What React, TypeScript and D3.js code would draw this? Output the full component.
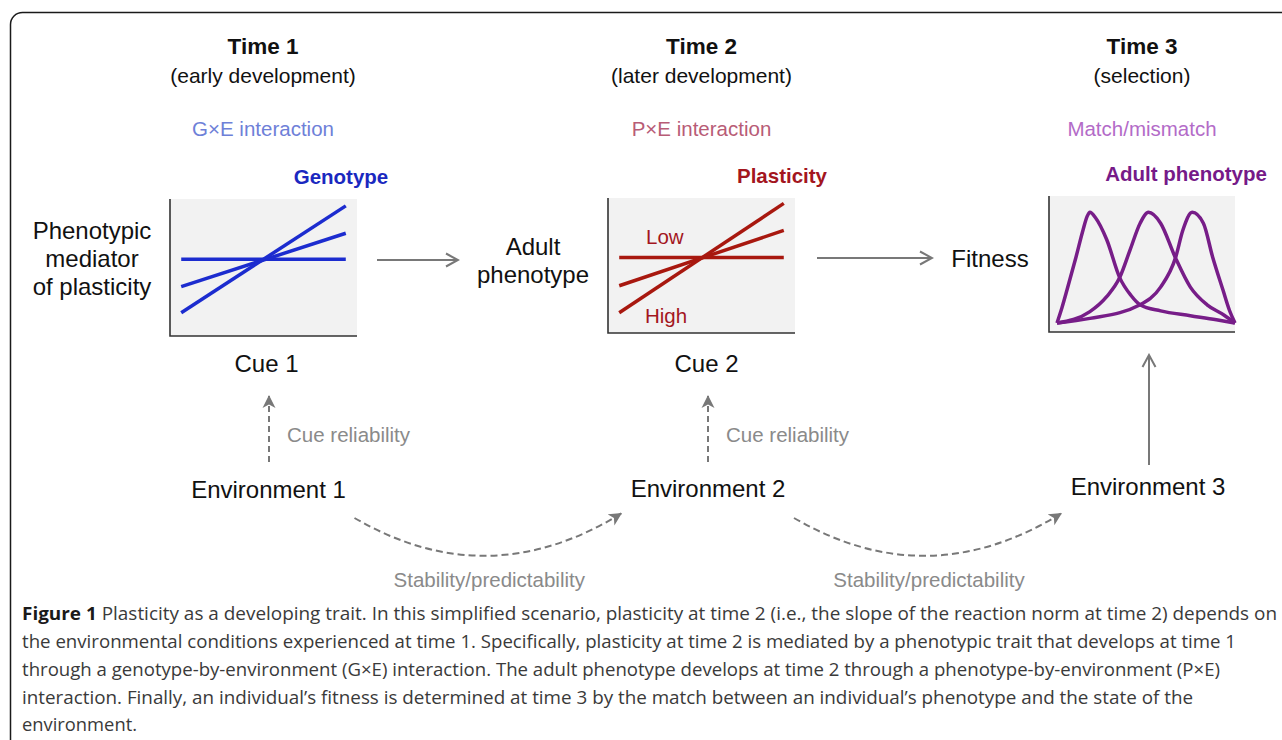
import * as d3 from "d3";

const timeTitles = ["Time 1", "Time 2", "Time 3"];
const timeSubtitles = ["(early development)", "(later development)", "(selection)"];
const interactionLabels = ["G×E interaction", "P×E interaction", "Match/mismatch"];
const panelTitles = ["Genotype", "Plasticity", "Adult phenotype"];
const cueLabels = ["Cue 1", "Cue 2"];
const environmentLabels = ["Environment 1", "Environment 2", "Environment 3"];
const mediatorLabel = ["Phenotypic", "mediator", "of plasticity"];
const adultLabel = ["Adult", "phenotype"];
const fitnessLabel = "Fitness";
const plasticityLevels = ["Low", "High"];
const reliabilityLabel = "Cue reliability";
const stabilityLabel = "Stability/predictability";

// reaction norms, value at low cue and at high cue
const cueRange = [0.06, 0.94];
const genotypeNorms = [
  [0.56, 0.56],
  [0.36, 0.75],
  [0.17, 0.95],
];
const plasticityNorms = [
  [0.56, 0.56],
  [0.35, 0.76],
  [0.15, 0.96],
];

// fitness over adult phenotype, [phenotype, fitness]
const fitnessEarly = [
  [0.043, 0.066], [0.07, 0.18], [0.097, 0.31], [0.145, 0.55], [0.183, 0.75], [0.205, 0.85], [0.22, 0.88],
  [0.25, 0.84], [0.31, 0.68], [0.38, 0.4], [0.44, 0.27], [0.49, 0.2], [0.6, 0.155],
  [0.76, 0.12], [0.9, 0.09], [1.0, 0.066],
];
const fitnessMid = [
  [0.043, 0.066], [0.22, 0.15], [0.31, 0.26], [0.38, 0.4], [0.435, 0.6], [0.49, 0.8], [0.535, 0.88],
  [0.6, 0.8], [0.68, 0.545], [0.76, 0.33], [0.85, 0.2], [0.94, 0.125], [1.0, 0.066],
];
const fitnessLate = [
  [0.043, 0.066], [0.22, 0.1], [0.49, 0.2], [0.6, 0.33], [0.68, 0.545], [0.72, 0.75], [0.77, 0.88],
  [0.83, 0.8], [0.88, 0.55], [0.935, 0.31], [0.97, 0.16], [1.0, 0.066],
];

const captionLead = "Figure 1";
const captionLines = [
  " Plasticity as a developing trait. In this simplified scenario, plasticity at time 2 (i.e., the slope of the reaction norm at time 2) depends on",
  "the environmental conditions experienced at time 1. Specifically, plasticity at time 2 is mediated by a phenotypic trait that develops at time 1",
  "through a genotype-by-environment (G×E) interaction. The adult phenotype develops at time 2 through a phenotype-by-environment (P×E)",
  "interaction. Finally, an individual’s fitness is determined at time 3 by the match between an individual’s phenotype and the state of the",
  "environment.",
];

const FONT = "'Liberation Sans', Arial, sans-serif";
const GRAY = "#787878";

export default function App() {
  const W = 1282;
  const H = 740;
  const cols = [263, 701.5, 1142];
  const envX = [268.5, 708, 1148];
  const panels = [
    { x: 170, y: 199, w: 187, h: 137 },
    { x: 608, y: 198, w: 187, h: 135 },
    { x: 1049, y: 196, w: 186, h: 136 },
  ];
  const titleX = [341, 782, 1186];
  const titleColors = ["#1a28c0", "#a3161e", "#761a88"];
  const interColors = ["#6e80d8", "#b85c76", "#b36bc8"];
  const lineColors = ["#1c2ccf", "#a8180f", "#771d88"];

  const scales = panels.map((p) => ({
    x: d3.scaleLinear().domain([0, 1]).range([p.x, p.x + p.w]),
    y: d3.scaleLinear().domain([0, 1]).range([p.y + p.h, p.y]),
  }));

  const normLine = (k: number) =>
    d3
      .line<number>()
      .x((_, i) => scales[k].x(cueRange[i]))
      .y((d) => scales[k].y(d));

  const fitLine = d3
    .line<number[]>()
    .x((d) => scales[2].x(d[0]))
    .y((d) => scales[2].y(d[1]))
    .curve(d3.curveMonotoneX);

  // stability arcs between environments
  const arc = (a: number, b: number) => {
    const x0 = envX[a] + 86;
    const x1 = envX[b] - 86;
    const mid = (x0 + x1) / 2;
    return `M${x0},518 Q${mid},596 ${x1},513`;
  };

  const captionWidths = [1255, 1214, 1198, 1171, 115];
  const captionY = [620, 648, 676, 704, 731];

  return (
    <svg
      width={W}
      height={H}
      style={{ position: "absolute", left: 0, top: 0, background: "#fff" }}
      fontFamily={FONT}
    >
      <defs>
        <marker id="chev" viewBox="0 0 16 16" refX="14" refY="8" markerWidth="16" markerHeight="16" markerUnits="userSpaceOnUse" orient="auto">
          <path d="M2,1.5 L14,8 L2,14.5" fill="none" stroke={GRAY} strokeWidth="2" />
        </marker>
        <marker id="tri" viewBox="0 0 14 14" refX="13" refY="7" markerWidth="14" markerHeight="14" markerUnits="userSpaceOnUse" orient="auto">
          <path d="M0,0.5 L13,7 L0,13.5 L3.5,7 Z" fill={GRAY} />
        </marker>
      </defs>

      <rect x={10.5} y={12.5} width={1300} height={760} rx={12} fill="none" stroke="#1a1a1a" strokeWidth={1.5} />

      {cols.map((cx, i) => (
        <g key={"col" + i} textAnchor="middle">
          <text x={cx} y={54} fontSize={22.5} fontWeight="bold" fill="#111">{timeTitles[i]}</text>
          <text x={cx} y={83} fontSize={21} fill="#111">{timeSubtitles[i]}</text>
          <text x={cx} y={136} fontSize={20.5} fill={interColors[i]}>{interactionLabels[i]}</text>
        </g>
      ))}

      {panels.map((p, i) => (
        <g key={"panel" + i}>
          <rect x={p.x} y={p.y} width={p.w} height={p.h} fill="#f2f2f2" />
          <path d={`M${p.x},${p.y}V${p.y + p.h}H${p.x + p.w}`} fill="none" stroke="#333" strokeWidth={1.6} />
          <text x={titleX[i]} y={p.y - 15} textAnchor="middle" fontSize={20.5} fontWeight="bold" fill={titleColors[i]}>
            {panelTitles[i]}
          </text>
        </g>
      ))}

      {genotypeNorms.map((d, i) => (
        <path key={"g" + i} d={normLine(0)(d) ?? ""} fill="none" stroke={lineColors[0]} strokeWidth={3.5} />
      ))}
      {plasticityNorms.map((d, i) => (
        <path key={"p" + i} d={normLine(1)(d) ?? ""} fill="none" stroke={lineColors[1]} strokeWidth={3.5} />
      ))}
      <text x={646} y={244} fontSize={20.5} fill="#a3161e">{plasticityLevels[0]}</text>
      <text x={645} y={323} fontSize={20.5} fill="#a3161e">{plasticityLevels[1]}</text>

      {[fitnessEarly, fitnessMid, fitnessLate].map((d, i) => (
        <path key={"f" + i} d={fitLine(d) ?? ""} fill="none" stroke={lineColors[2]} strokeWidth={3.5} strokeLinejoin="round" />
      ))}

      <g fontSize={24} fill="#111" textAnchor="middle">
        {mediatorLabel.map((t, i) => (
          <text key={t} x={92} y={239 + i * 28}>{t}</text>
        ))}
        {adultLabel.map((t, i) => (
          <text key={t} x={533} y={255 + i * 28}>{t}</text>
        ))}
        <text x={990} y={267}>{fitnessLabel}</text>
        {cueLabels.map((t, i) => (
          <text key={t} x={[266.5, 706.5][i]} y={372}>{t}</text>
        ))}
        {environmentLabels.map((t, i) => (
          <text key={t} x={envX[i]} y={[498, 497, 495][i]}>{t}</text>
        ))}
      </g>

      {/* causal arrows */}
      <line x1={377} y1={260} x2={458} y2={260} stroke={GRAY} strokeWidth={2} markerEnd="url(#chev)" />
      <line x1={817} y1={258} x2={932} y2={258} stroke={GRAY} strokeWidth={2} markerEnd="url(#chev)" />
      <line x1={envX[2] + 1} y1={465} x2={envX[2] + 1} y2={355} stroke={GRAY} strokeWidth={2} markerEnd="url(#chev)" />

      {[269, 708].map((x, i) => (
        <g key={"rel" + i}>
          <line x1={x} y1={462} x2={x} y2={395} stroke={GRAY} strokeWidth={2} strokeDasharray="6 4" markerEnd="url(#tri)" />
          <text x={x + 18} y={442} fontSize={20.5} fill="#8a8a8a">{reliabilityLabel}</text>
        </g>
      ))}

      {[0, 1].map((i) => (
        <g key={"arc" + i}>
          <path d={arc(i, i + 1)} fill="none" stroke={GRAY} strokeWidth={2} strokeDasharray="7 4" markerEnd="url(#tri)" />
          <text x={(envX[i] + envX[i + 1]) / 2 + 1} y={587} textAnchor="middle" fontSize={20.5} fill="#8a8a8a">
            {stabilityLabel}
          </text>
        </g>
      ))}

      <g fontFamily="'Open Sans', 'Noto Sans', sans-serif" fontSize={18} fill="#3a3a3a">
        {captionLines.map((t, i) => (
          <text key={i} x={22} y={captionY[i]} textLength={captionWidths[i]} lengthAdjust="spacingAndGlyphs">
            {i === 0 && (
              <tspan fontWeight="bold" fill="#1a1a1a">
                {captionLead}
              </tspan>
            )}
            {t}
          </text>
        ))}
      </g>
    </svg>
  );
}
